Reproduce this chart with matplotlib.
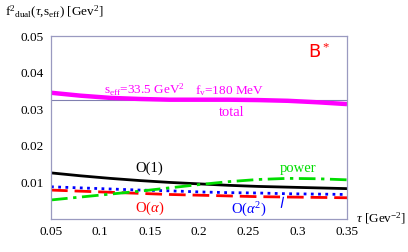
import numpy as np
import matplotlib
matplotlib.use('Agg')
import matplotlib.pyplot as plt

SERIF = 'Liberation Serif'
FRAME = '#9a9ac0'

plt.rcParams['mathtext.fontset'] = 'custom'
plt.rcParams['mathtext.rm'] = SERIF
plt.rcParams['mathtext.it'] = SERIF + ':italic'

# ------------------------- #
# Data
# ------------------------- #

tau = [0.05, 0.08, 0.11, 0.14, 0.17, 0.20, 0.23, 0.26, 0.29, 0.32, 0.35]
total = [0.0345, 0.0337, 0.0331, 0.0328, 0.0326, 0.0326, 0.0326, 0.0325, 0.0323, 0.0319, 0.0314]
o1 = [0.0126, 0.0118, 0.0111, 0.0105, 0.0100, 0.0096, 0.0092, 0.0089, 0.0087, 0.0085, 0.0083]
o_alpha = [0.0079, 0.0076, 0.0073, 0.0070, 0.0067, 0.0065, 0.0063, 0.0061, 0.0060, 0.0059, 0.0058]
o_alpha2 = [0.0088, 0.0085, 0.0082, 0.0079, 0.0077, 0.0074, 0.0072, 0.0071, 0.0069, 0.0068, 0.0067]
power = [0.0052, 0.0060, 0.0068, 0.0076, 0.0085, 0.0094, 0.0102, 0.0108, 0.0111, 0.0110, 0.0107]

s_eff_level = 0.0325

xticks = [0.05, 0.1, 0.15, 0.2, 0.25, 0.3, 0.35]
xtick_labels = ['0.05', '0.1', '0.15', '0.2', '0.25', '0.3', '0.35']
yticks = [0.01, 0.02, 0.03, 0.04, 0.05]
ytick_labels = ['0.01', '0.02', '0.03', '0.04', '0.05']

# ------------------------- #
# Figure
# ------------------------- #

fig = plt.figure(figsize=(4.08, 2.52), dpi=100)
ax = fig.add_axes([0.125, 0.131, 0.7255, 0.726])

ax.axhline(s_eff_level, color='#8080b0', lw=0.8)
ax.plot(tau, total, color='#ff00ff', lw=3.2, solid_capstyle='butt')
ax.plot(tau, o1, color='black', lw=2.0)
ax.plot(tau, o_alpha, color='#ff0000', lw=2.0, dashes=(6, 2.5))
ax.plot(tau, o_alpha2, color='#0000ff', lw=2.0, dashes=(1, 1.6))
ax.plot(tau, power, color='#00dd00', lw=2.0, dashes=(6, 2, 1.2, 2))

ax.set_xlim(0.05, 0.35)
ax.set_ylim(0.0, 0.05)
ax.set_xticks(xticks)
ax.set_xticklabels(xtick_labels)
ax.set_yticks(yticks)
ax.set_yticklabels(ytick_labels)
ax.tick_params(length=0, pad=5, labelsize=9.5)
for lab in ax.get_xticklabels() + ax.get_yticklabels():
    lab.set_fontfamily(SERIF)
for sp in ax.spines.values():
    sp.set_color(FRAME)
    sp.set_linewidth(0.9)

# labels on the curves
ax.text(0.15, 0.0138, 'O(1)', color='black', fontsize=10.5, family=SERIF, ha='center', va='center')
ax.text(0.15, 0.0028, r'O($\alpha$)', color='#ff0000', fontsize=10.5, family=SERIF, ha='center', va='center')
ax.text(0.25, 0.0026, r'O($\alpha^2$)', color='#0000ff', fontsize=10.5, family=SERIF, ha='center', va='center')
ax.plot([0.2835, 0.2855], [0.0032, 0.0059], color='#0000ff', lw=0.9)
ax.text(0.30, 0.0138, 'power', color='#00dd00', fontsize=10.5, family=SERIF, ha='center', va='center')
ax.text(0.233, 0.0290, 'total', color='#ff00ff', fontsize=10.5, family=SERIF, ha='center', va='center')
ax.text(0.145, 0.0352, r's$_{\rm eff}$=33.5 GeV$^2$', color='#ff00ff', fontsize=9.5,
        family=SERIF, ha='center', va='center')
ax.text(0.196, 0.0352, r'f$_{\rm v}$=180 MeV', color='#ff00ff', fontsize=9.5,
        family=SERIF, ha='left', va='center')
ax.text(0.322, 0.0455, r'B$^*$', color='#ff0000', fontsize=13, family='DejaVu Sans',
        ha='center', va='center')

# axis titles
fig.text(0.012, 0.952, r'f$^2$$_{\rm dual}$($\tau$,s$_{\rm eff}$) [Gev$^2$]', fontsize=9.5,
         family=SERIF, ha='left', va='center')
fig.text(0.872, 0.133, r'$\tau$ [Gev$^{-2}$]', fontsize=9.5, family=SERIF, ha='left', va='center')

fig.savefig('out.png', dpi=100)
